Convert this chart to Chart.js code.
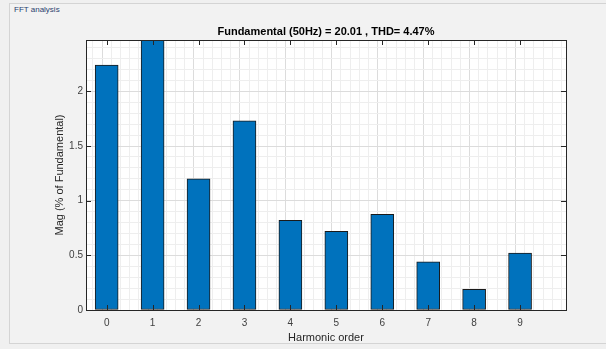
<!DOCTYPE html>
<html>
<head>
<meta charset="utf-8">
<script src="https://cdn.jsdelivr.net/npm/chart.js@4/dist/chart.umd.min.js"></script>
<style>
  html, body { margin: 0; padding: 0; background: #f0f0f0; }
  #wrap { position: relative; width: 606px; height: 349px; overflow: hidden; }
  #panel {
    position: absolute; left: 9px; top: 3px; width: 600px; height: 341px;
    border: 1px solid #d4d4d4; background: #f2f2f2; box-sizing: border-box;
  }
  #panel-title {
    position: absolute; left: 14px; top: 5px; font: 8px 'Liberation Sans', Arial, sans-serif;
    color: #2a3f6e;
  }
  #chart { position: absolute; left: 0; top: 0; }
</style>
</head>
<body>
<div id="wrap">
  <div id="panel"></div>
  <div id="panel-title">FFT analysis</div>
  <canvas id="chart" width="606" height="349"></canvas>
</div>
<script>
(function () {
  'use strict';

  var harmonics = [0, 1, 2, 3, 4, 5, 6, 7, 8, 9];
  var magnitudes = [2.24, 2.6, 1.20, 1.73, 0.82, 0.72, 0.875, 0.44, 0.19, 0.52];
  var yMajorTicks = [0, 0.5, 1, 1.5, 2];
  var titleText = 'Fundamental (50Hz) = 20.01 , THD= 4.47%';

  var FONT = "'Liberation Sans', Arial, sans-serif";
  var AXIS = '#262626';

  function isMajor(v, list) {
    return list.some(function (m) { return Math.abs(m - v) < 1e-6; });
  }

  function stepTicks(from, to, step) {
    var out = [];
    for (var i = 0; from + i * step <= to + 1e-9; i++) {
      out.push({ value: Math.round((from + i * step) * 1000) / 1000 });
    }
    return out;
  }

  var frame = {
    id: 'frame',
    beforeDraw: function (chart) {
      var a = chart.chartArea, ctx = chart.ctx;
      ctx.save();
      ctx.fillStyle = '#ffffff';
      ctx.fillRect(a.left, a.top, a.right - a.left, a.bottom - a.top);
      ctx.restore();
    },
    afterDraw: function (chart) {
      var a = chart.chartArea, ctx = chart.ctx;
      var x = chart.scales.x, y = chart.scales.y;
      ctx.save();
      ctx.strokeStyle = AXIS;
      ctx.lineWidth = 1;
      ctx.strokeRect(Math.round(a.left) + 0.5, Math.round(a.top) + 0.5,
        Math.round(a.right - a.left), Math.round(a.bottom - a.top));
      // inward tick marks, MATLAB style
      ctx.beginPath();
      harmonics.forEach(function (h) {
        var px = Math.round(x.getPixelForValue(h)) + 0.5;
        ctx.moveTo(px, a.bottom); ctx.lineTo(px, a.bottom - 5);
        ctx.moveTo(px, a.top); ctx.lineTo(px, a.top + 5);
      });
      yMajorTicks.forEach(function (t) {
        var py = Math.round(y.getPixelForValue(t)) + 0.5;
        ctx.moveTo(a.left, py); ctx.lineTo(a.left + 5, py);
        ctx.moveTo(a.right, py); ctx.lineTo(a.right - 5, py);
      });
      ctx.stroke();
      // title
      ctx.fillStyle = '#000000';
      ctx.font = 'bold 11px ' + FONT;
      ctx.textAlign = 'center';
      ctx.textBaseline = 'alphabetic';
      ctx.fillText(titleText, (a.left + a.right) / 2, a.top - 5);
      ctx.restore();
    }
  };

  new Chart(document.getElementById('chart'), {
    type: 'bar',
    data: {
      datasets: [{
        data: harmonics.map(function (h, i) { return { x: h, y: magnitudes[i] }; }),
        backgroundColor: '#0072bd',
        borderColor: '#1a1a1a',
        borderWidth: 1,
        borderSkipped: false,
        barThickness: 23
      }]
    },
    plugins: [frame],
    options: {
      responsive: false,
      animation: false,
      events: [],
      layout: { padding: { top: 40, right: 40, left: 0, bottom: 0 } },
      plugins: { legend: { display: false }, tooltip: { enabled: false } },
      scales: {
        x: {
          type: 'linear',
          min: -0.45,
          max: 10,
          offset: false,
          afterBuildTicks: function (s) { s.ticks = stepTicks(-0.4, 10, 0.2); },
          afterFit: function (s) { s.height = 39; },
          ticks: {
            autoSkip: false,
            maxRotation: 0,
            padding: 7,
            color: '#404040',
            font: { family: FONT, size: 10 },
            callback: function (v) { return isMajor(v, harmonics) ? String(v) : ''; }
          },
          grid: {
            drawTicks: false,
            color: function (c) {
              return c.tick && isMajor(c.tick.value, harmonics) ? '#dcdcdc' : '#eeeeee';
            }
          },
          border: { display: false },
          title: {
            display: true,
            text: 'Harmonic order',
            color: '#262626',
            font: { family: FONT, size: 11 },
            padding: { top: 2, bottom: 4 }
          }
        },
        y: {
          min: 0,
          max: 2.47,
          afterBuildTicks: function (s) { s.ticks = stepTicks(0, 2.4, 0.1); },
          afterFit: function (s) { s.width = 86; },
          ticks: {
            autoSkip: false,
            padding: 3,
            color: '#404040',
            font: { family: FONT, size: 10 },
            callback: function (v) { return isMajor(v, yMajorTicks) ? String(v) : ''; }
          },
          grid: {
            drawTicks: false,
            color: function (c) {
              return c.tick && isMajor(c.tick.value, yMajorTicks) ? '#dcdcdc' : '#eeeeee';
            }
          },
          border: { display: false },
          title: {
            display: true,
            text: 'Mag (% of Fundamental)',
            color: '#262626',
            font: { family: FONT, size: 11 },
            padding: { top: 53, bottom: 4 }
          }
        }
      }
    }
  });
})();
</script>
</body>
</html>
